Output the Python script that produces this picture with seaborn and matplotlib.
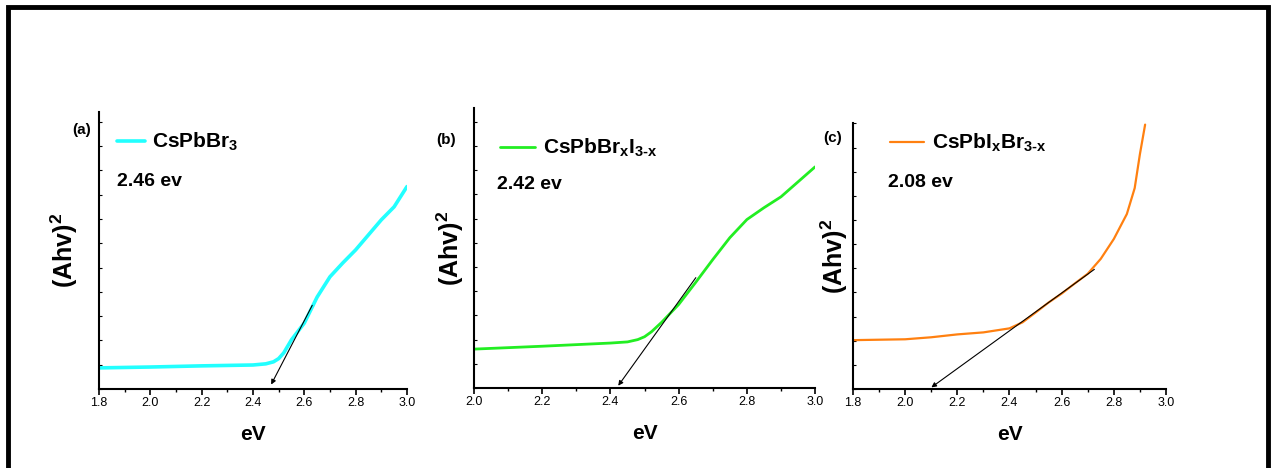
import numpy as np
import matplotlib
matplotlib.use("Agg")
import matplotlib.pyplot as plt
from matplotlib.patches import Rectangle
from matplotlib.ticker import MultipleLocator, NullFormatter
import seaborn as sns

# (a) CsPbBr3
ev_a = [1.8, 2.0, 2.2, 2.4, 2.45, 2.48, 2.5, 2.52, 2.55, 2.6, 2.65, 2.7, 2.75, 2.8, 2.85, 2.9, 2.95, 3.0]
abs_a = [0.073, 0.076, 0.080, 0.083, 0.087, 0.094, 0.105, 0.125, 0.17, 0.228, 0.318, 0.388, 0.436, 0.481, 0.533, 0.585, 0.63, 0.70]
tan_a = ([2.636, 2.466], [0.298, 0.007])

# (b) CsPbBrxI3-x
ev_b = [2.0, 2.2, 2.4, 2.45, 2.48, 2.5, 2.52, 2.55, 2.6, 2.65, 2.7, 2.75, 2.8, 2.85, 2.9, 2.95, 3.0]
abs_b = [0.135, 0.145, 0.156, 0.160, 0.168, 0.178, 0.195, 0.228, 0.29, 0.367, 0.446, 0.522, 0.585, 0.626, 0.664, 0.716, 0.768]
tan_b = ([2.655, 2.418], [0.391, 0.0])

# (c) CsPbIxBr3-x
ev_c = [1.8, 2.0, 2.1, 2.2, 2.3, 2.4, 2.45, 2.5, 2.55, 2.6, 2.65, 2.7, 2.75, 2.8, 2.85, 2.88, 2.9, 2.92]
abs_c = [0.170, 0.173, 0.180, 0.190, 0.197, 0.211, 0.232, 0.266, 0.301, 0.332, 0.367, 0.401, 0.453, 0.522, 0.609, 0.699, 0.817, 0.92]
tan_c = ([2.734, 2.092], [0.422, 0.0])

panels = [
    dict(x=ev_a, y=abs_a, tan=tan_a, color="#22FFFF", lw=2.6, label="CsPbBr$_3$",
         gap="2.46 ev", tag="(a)", xlim=(1.8, 3.0), ytop=0.958,
         pos=[0.0776, 0.1688, 0.2416, 0.592],
         leg=(0.0918, 0.6966), hl=1.35, gap_xy=(0.0918, 0.6132), tag_xy=(0.0565, 0.722), ylpad=10),
    dict(x=ev_b, y=abs_b, tan=tan_b, color="#22EE22", lw=2.0, label="CsPbBr$_x$I$_{3\u2010x}$",
         gap="2.42 ev", tag="(b)", xlim=(2.0, 3.0), ytop=0.972,
         pos=[0.3718, 0.171, 0.2675, 0.598],
         leg=(0.392, 0.6838), hl=1.7, gap_xy=(0.3898, 0.6068), tag_xy=(0.342, 0.7009), ylpad=2),
    dict(x=ev_c, y=abs_c, tan=tan_c, color="#FF8010", lw=1.6, label="CsPbI$_x$Br$_{3\u2010x}$",
         gap="2.08 ev", tag="(c)", xlim=(1.8, 3.0), ytop=0.925,
         pos=[0.669, 0.1688, 0.2455, 0.568],
         leg=(0.698, 0.6944), hl=1.65, gap_xy=(0.6965, 0.609), tag_xy=(0.646, 0.705), ylpad=-1),
]

sns.set_style("ticks")
plt.rcParams['font.family'] = ['Liberation Sans', 'DejaVu Sans']
plt.rcParams['mathtext.fontset'] = 'custom'
plt.rcParams['mathtext.rm'] = 'Liberation Sans:bold'
plt.rcParams['mathtext.it'] = 'Liberation Sans:bold'
plt.rcParams['mathtext.bf'] = 'Liberation Sans:bold'
for k in ['text.color', 'axes.labelcolor', 'xtick.color', 'ytick.color']:
    plt.rcParams[k] = 'black'

fig = plt.figure(figsize=(12.75, 4.68), dpi=100)

for p in panels:
    ax = fig.add_axes(p["pos"])
    sns.lineplot(x=p["x"], y=p["y"], ax=ax, color=p["color"], lw=p["lw"], label=p["label"])
    # tangent line with arrow pointing at the band gap
    ax.annotate("", xy=(p["tan"][0][1], p["tan"][1][1]), xytext=(p["tan"][0][0], p["tan"][1][0]),
                arrowprops=dict(arrowstyle="-|>", color="black", lw=0.8, mutation_scale=7))
    ax.set_xlim(*p["xlim"])
    ax.set_ylim(0, p["ytop"])
    sns.despine(ax=ax)
    for s in ["left", "bottom"]:
        ax.spines[s].set_linewidth(1.5)
        ax.spines[s].set_color("black")
    ax.xaxis.set_major_locator(MultipleLocator(0.2))
    ax.xaxis.set_minor_locator(MultipleLocator(0.1))
    ax.yaxis.set_major_locator(MultipleLocator(0.084))
    ax.yaxis.set_major_formatter(NullFormatter())
    ax.tick_params(axis="x", which="major", direction="out", length=4, width=1.2, labelsize=9, pad=2)
    ax.tick_params(axis="x", which="minor", direction="out", length=2.5, width=1)
    ax.tick_params(axis="y", which="major", direction="in", length=2.5, width=0.8)
    ax.set_xlabel("eV", fontsize=15, fontweight="bold", labelpad=11)
    ax.set_ylabel("(Ahv)$^2$", fontsize=18, fontweight="bold", labelpad=p["ylpad"])
    ax.legend(loc="center left", bbox_to_anchor=p["leg"], bbox_transform=fig.transFigure,
              frameon=False, prop=dict(size=15, weight="bold"), handlelength=p["hl"],
              handletextpad=0.35, borderpad=0, borderaxespad=0)
    fig.text(p["gap_xy"][0], p["gap_xy"][1], p["gap"], fontsize=14, fontweight="bold", va="center")
    fig.text(p["tag_xy"][0], p["tag_xy"][1], p["tag"], fontsize=11, fontweight="bold", va="center")

# outer frame
fig.add_artist(Rectangle((0.0063, -0.1), 0.9882, 1.085, transform=fig.transFigure,
                         fill=False, lw=3.5, edgecolor="black"))

fig.savefig("out.png", dpi=100)
